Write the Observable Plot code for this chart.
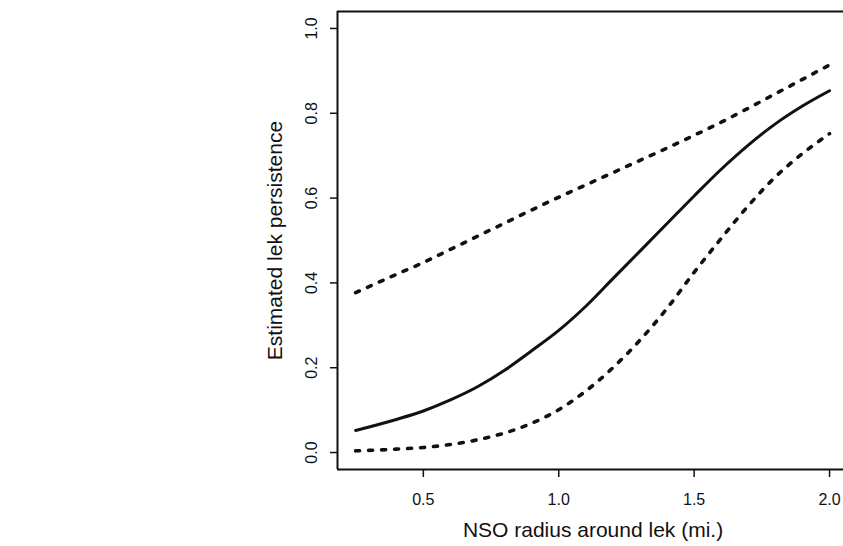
<!DOCTYPE html>
<html>
<head>
<meta charset="utf-8">
<script src="https://cdn.jsdelivr.net/npm/d3@7"></script>
<script src="https://cdn.jsdelivr.net/npm/@observablehq/plot@0.6"></script>
<style>
  html, body { margin: 0; padding: 0; background: #fff; overflow: hidden; }
  #chart svg { display: block; }
</style>
</head>
<body>
<div id="chart"></div>
<script>
// NSO radius around lek (mi.)
const radius = [0.25, 0.4, 0.5, 0.6, 0.7, 0.8, 0.9, 1.0, 1.1, 1.2, 1.3, 1.4, 1.5, 1.6, 1.7, 1.8, 1.9, 2.0];
// Estimated lek persistence (solid line)
const estimate = [0.052, 0.078, 0.098, 0.124, 0.155, 0.194, 0.240, 0.288, 0.345, 0.410, 0.475, 0.540, 0.605, 0.668, 0.725, 0.775, 0.817, 0.853];
// Upper confidence bound (dashed)
const upper = [0.377, 0.420, 0.448, 0.479, 0.510, 0.541, 0.572, 0.602, 0.631, 0.660, 0.689, 0.718, 0.748, 0.779, 0.812, 0.846, 0.880, 0.914];
// Lower confidence bound (dashed)
const lower = [0.004, 0.008, 0.012, 0.019, 0.030, 0.046, 0.069, 0.101, 0.145, 0.200, 0.265, 0.340, 0.425, 0.505, 0.582, 0.650, 0.705, 0.752];

const xTicks = [0.5, 1.0, 1.5, 2.0];
const yTicks = [0.0, 0.2, 0.4, 0.6, 0.8, 1.0];
const xDomain = [0.183, 2.07];
const yDomain = [-0.04, 1.04];

const rows = (ys) => radius.map((x, i) => ({x, y: ys[i]}));

const font = "'Liberation Sans', Arial, Helvetica, sans-serif";

const chart = Plot.plot({
  width: 843,
  height: 546,
  marginLeft: 337,
  marginRight: -5,
  marginTop: 11,
  marginBottom: 77,
  style: {fontFamily: font, fontSize: "16px", color: "#111", background: "#fff"},
  x: {domain: xDomain},
  y: {domain: yDomain},
  marks: [
    // plot box (left, bottom, top)
    Plot.ruleX([xDomain[0]], {stroke: "#111", strokeWidth: 2}),
    Plot.ruleY([yDomain[0]], {stroke: "#111", strokeWidth: 2}),
    Plot.ruleY([yDomain[1]], {stroke: "#111", strokeWidth: 2}),
    Plot.axisX({
      ticks: xTicks,
      tickSize: 8,
      tickPadding: 16,
      tickFormat: d3.format(".1f"),
      fontSize: 16,
      label: "NSO radius around lek (mi.)",
      labelAnchor: "center",
      labelArrow: "none",
      labelOffset: 67,
      strokeWidth: 1.5
    }),
    Plot.axisY({
      ticks: yTicks,
      tickSize: 7,
      tickPadding: 14,
      tickRotate: -90,
      tickFormat: d3.format(".1f"),
      fontSize: 16,
      label: "Estimated lek persistence",
      labelAnchor: "center",
      labelArrow: "none",
      labelOffset: 70,
      strokeWidth: 1.5
    }),
    Plot.line(rows(upper), {x: "x", y: "y", stroke: "#111", strokeWidth: 3.6, strokeDasharray: "4,9", strokeLinecap: "round", curve: "monotone-x"}),
    Plot.line(rows(lower), {x: "x", y: "y", stroke: "#111", strokeWidth: 3.6, strokeDasharray: "4,9", strokeLinecap: "round", curve: "monotone-x"}),
    Plot.line(rows(estimate), {x: "x", y: "y", stroke: "#111", strokeWidth: 3, curve: "monotone-x"})
  ]
});

// larger axis-label fonts
chart.querySelectorAll("g[aria-label='x-axis label'] text, g[aria-label='y-axis label'] text").forEach(t => t.setAttribute("font-size", "21"));
document.getElementById("chart").appendChild(chart);
</script>
</body>
</html>
